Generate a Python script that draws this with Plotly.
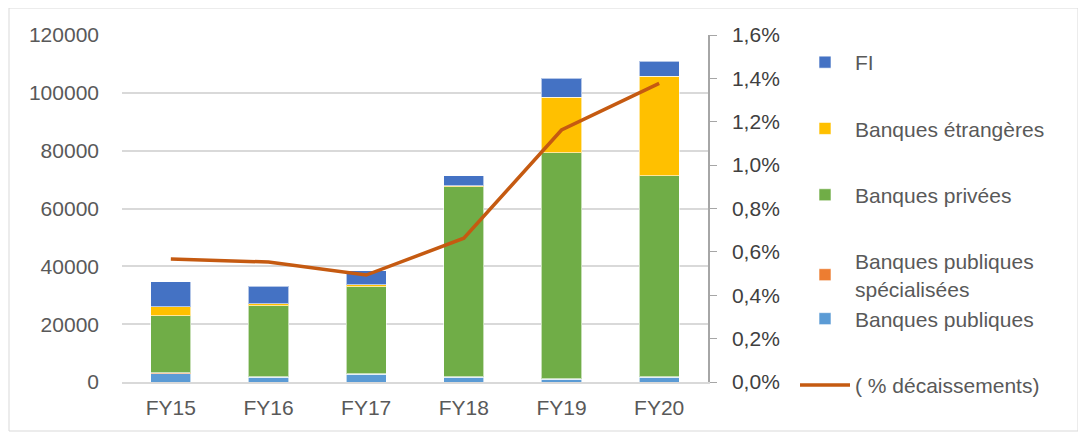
import plotly.graph_objects as go

categories = ["FY15", "FY16", "FY17", "FY18", "FY19", "FY20"]
banques_publiques = [2900, 1600, 2700, 1600, 900, 1600]
banques_pub_specialisees = [300, 200, 200, 200, 200, 200]
banques_privees = [19700, 24500, 30100, 65700, 78200, 69500]
banques_etrangeres = [3100, 800, 700, 400, 19200, 34500]
fi = [8600, 6000, 4700, 3400, 6500, 5200]
pct_decaissements = [0.00567, 0.00553, 0.00493, 0.00663, 0.01162, 0.01377]

left_ticks = [0, 20000, 40000, 60000, 80000, 100000, 120000]
right_ticks = [0, 0.002, 0.004, 0.006, 0.008, 0.010, 0.012, 0.014, 0.016]

FONT = "Liberation Sans"
TXT = "#595959"

fig = go.Figure()
bar_series = [
    ("Banques publiques", banques_publiques, "#5B9BD5", 5, "g4"),
    ("Banques publiques<br>spécialisées", banques_pub_specialisees, "#ED7D31", 4, "g4"),
    ("Banques privées", banques_privees, "#70AD47", 3, "g3"),
    ("Banques étrangères", banques_etrangeres, "#FFC000", 2, "g2"),
    ("FI", fi, "#4472C4", 1, "g1"),
]
for name, vals, col, rank, grp in bar_series:
    fig.add_trace(go.Bar(
        x=categories, y=vals, name=name,
        marker=dict(color=col, line=dict(color="rgba(255,255,255,0.6)", width=1)),
        legendrank=rank, legendgroup=grp,
    ))
fig.add_trace(go.Scatter(
    x=categories, y=pct_decaissements, name="( % décaissements)",
    mode="lines", line=dict(color="#C55A11", width=3.5),
    yaxis="y2", legendrank=6, legendgroup="g5",
))

# page body has 8px margin -> work in figure coordinates (screen - 8)
OFF = 8
W, H = 1086 - OFF, 439 - OFF
L, R, T, B = 122 - OFF, 708 - OFF, 35 - OFF, 382 - OFF
pw = R - L
ph = B - T

fig.update_layout(
    width=W, height=H,
    margin=dict(l=L, r=W - R, t=T, b=H - B, pad=0),
    barmode="stack", bargap=0.59,
    paper_bgcolor="white", plot_bgcolor="white",
    separators=", ",
    font=dict(family=FONT, size=21, color=TXT),
    xaxis=dict(showline=True, linecolor="#D9D9D9", linewidth=2,
               tickfont=dict(size=21, color=TXT), ticks="", showgrid=False,
               ticklabelstandoff=6),
    yaxis=dict(range=[0, 120000], tickvals=left_ticks, tickformat="d",
               showgrid=True, gridcolor="#D9D9D9", gridwidth=1.5,
               zeroline=False, showline=False, ticks="",
               tickfont=dict(size=21, color=TXT), ticklabelstandoff=22),
    yaxis2=dict(range=[0, 0.016], tickvals=right_ticks, tickformat=".1%",
                overlaying="y", side="right", showgrid=False, zeroline=False,
                showline=True, linecolor="#A6A6A6", linewidth=1.5,
                ticks="outside", ticklen=7, tickcolor="#A6A6A6",
                ticklabelstandoff=11,
                tickfont=dict(size=21, color="#404040")),
    legend=dict(x=(795 - OFF - L) / pw, xanchor="left",
                y=1 - (42 - OFF - T) / ph, yanchor="top",
                font=dict(size=21, color=TXT), tracegroupgap=36,
                traceorder="grouped",
                maxheight=420,
                itemwidth=50, bgcolor="rgba(0,0,0,0)"),
    showlegend=True,
    shapes=[dict(type="rect", xref="paper", yref="paper",
                 x0=(9 - OFF - L) / pw, x1=(1078 - OFF - L) / pw,
                 y0=1 - (431 - OFF - T) / ph, y1=1 - (0 - T) / ph,
                 line=dict(color="#D9D9D9", width=1), fillcolor="rgba(0,0,0,0)", layer="below")],
)

fig.write_html("out.html")
